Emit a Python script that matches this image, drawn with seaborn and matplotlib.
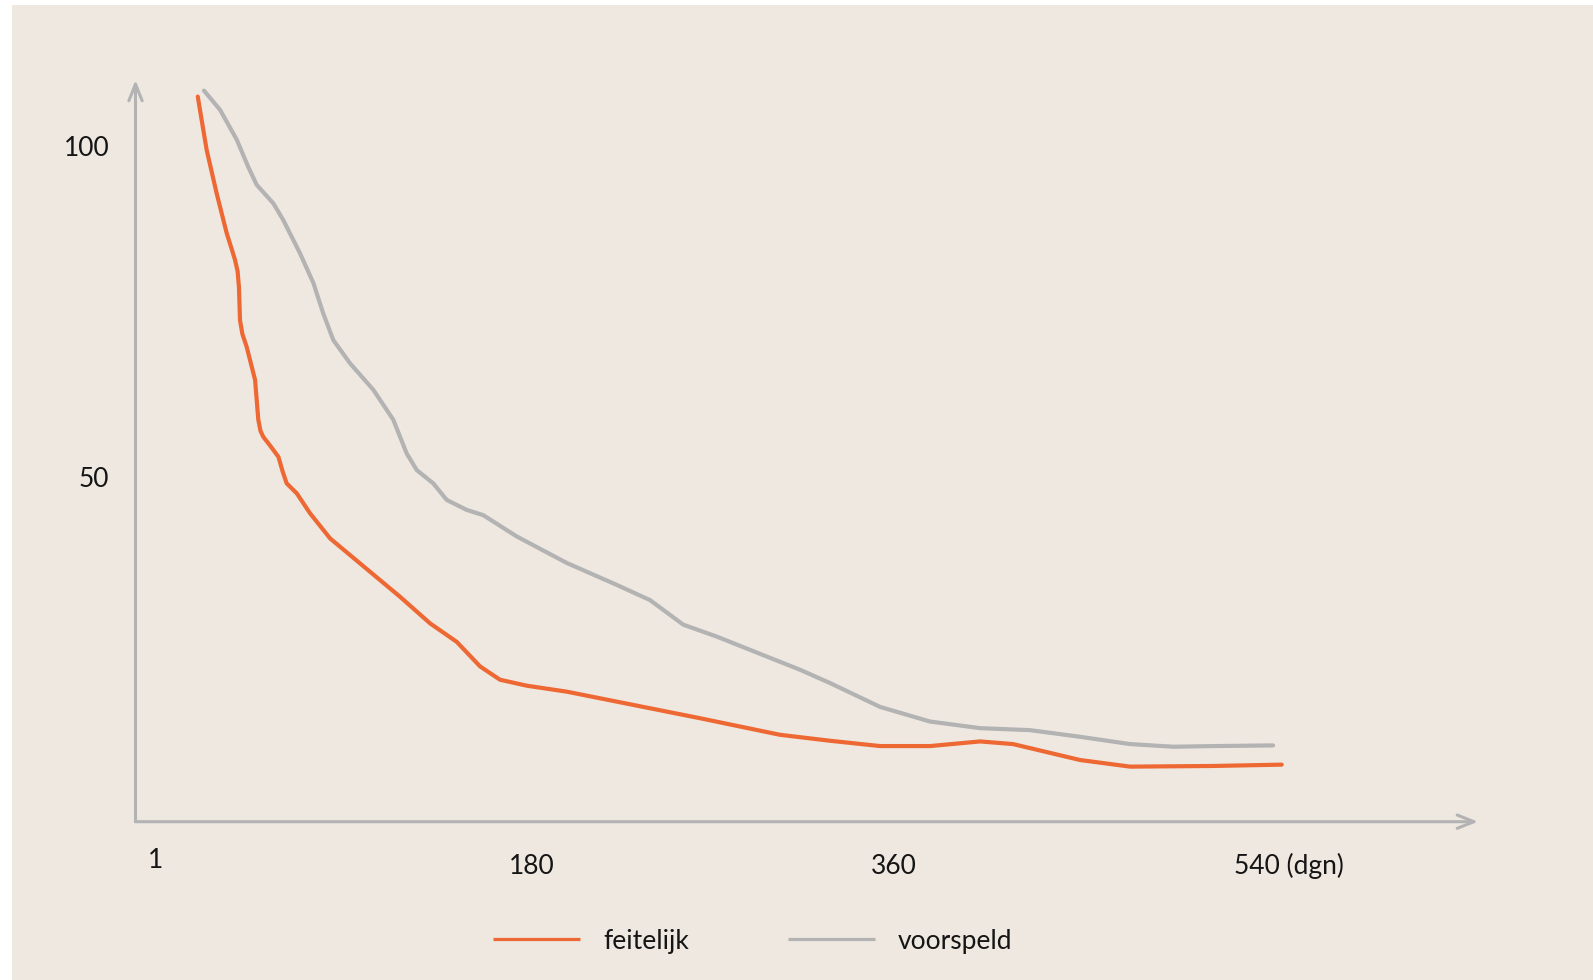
import matplotlib
matplotlib.use("Agg")
import matplotlib.pyplot as plt
from matplotlib.patches import Rectangle
from matplotlib.transforms import ScaledTranslation
import pandas as pd
import seaborn as sns

# ---------------- data ----------------
series_names = ["feitelijk", "voorspeld"]

days_feitelijk = [13.8, 18.2, 23.2, 28.2, 31.0, 32.3, 33.6, 34.3, 34.8, 36.0, 38.1,
                  42.3, 43.9, 45.0, 46.4, 50.0, 53.9, 56.0, 58.0, 63.0, 69.6, 79.6,
                  114.4, 129.3, 142.6, 154.2, 164.1, 177.4, 197.3, 230.4, 263.5,
                  303.3, 328.2, 353.1, 377.9, 402.8, 419.2, 452.5, 477.4, 518.6, 552.8]
vals_feitelijk = [107.3, 99.3, 92.7, 86.7, 84.0, 82.7, 81.0, 78.5, 73.6, 71.5, 69.6,
                  64.6, 58.6, 56.9, 56.0, 54.6, 53.0, 50.8, 49.0, 47.5, 44.5, 40.7,
                  31.9, 27.9, 25.1, 21.4, 19.4, 18.5, 17.6, 15.6, 13.6,
                  11.1, 10.2, 9.4, 9.4, 10.1, 9.7, 7.3, 6.3, 6.4, 6.6]

days_voorspeld = [16.9, 24.9, 33.2, 38.9, 43.1, 51.4, 56.3, 64.6, 71.3, 76.2, 81.2,
                  89.5, 101.1, 111.0, 117.7, 122.7, 130.9, 137.6, 147.5, 155.8,
                  172.4, 197.3, 222.1, 238.7, 255.2, 271.9, 296.7, 313.3, 328.2,
                  353.1, 377.9, 402.8, 427.6, 452.5, 477.4, 498.9, 518.8, 548.5]
vals_voorspeld = [108.2, 105.3, 100.8, 96.7, 94.0, 91.2, 88.7, 83.7, 79.2, 74.6, 70.6,
                  67.1, 63.1, 58.6, 53.5, 51.0, 49.0, 46.5, 45.0, 44.2,
                  41.0, 37.0, 33.7, 31.4, 27.7, 25.9, 22.9, 20.9, 18.9,
                  15.3, 13.1, 12.1, 11.8, 10.8, 9.7, 9.3, 9.4, 9.5]

x_tick_values = [1, 180, 360, 540]
x_tick_labels = ["1", "180", "360", "540 (dgn)"]
y_tick_values = [100, 50]
y_tick_labels = ["100", "50"]

# ---------------- style ----------------
BG = "#EEE8E1"
ORANGE = "#EE6834"
GREY = "#B3B3B3"
AXIS = "#B3B3B3"
TEXT = "#151515"

sns.set_style("white")
plt.rcParams["font.family"] = ["Lato", "DejaVu Sans"]

W, H = 1593, 980
fig = plt.figure(figsize=(W / 100, H / 100), dpi=100)
fig.patch.set_facecolor("white")
fig.patches.append(Rectangle((12 / W, 0), 1 - 12 / W, 1 - 5 / H,
                             transform=fig.transFigure, facecolor=BG,
                             edgecolor="none", zorder=-10))

ax_left, ax_right, ax_bottom, ax_top = 135.5, 1478.0, 821.7, 80.0
ax = fig.add_axes([ax_left / W, 1 - ax_bottom / H,
                   (ax_right - ax_left) / W, (ax_bottom - ax_top) / H])
ax.set_facecolor("none")

df = pd.concat([
    pd.DataFrame({"dag": days_feitelijk, "waarde": vals_feitelijk, "reeks": series_names[0]}),
    pd.DataFrame({"dag": days_voorspeld, "waarde": vals_voorspeld, "reeks": series_names[1]}),
], ignore_index=True)

sns.lineplot(data=df, x="dag", y="waarde", hue="reeks", hue_order=series_names,
             palette={series_names[0]: ORANGE, series_names[1]: GREY},
             sort=False, estimator=None, linewidth=3.0, ax=ax,
             solid_capstyle="round", solid_joinstyle="round")
lines = ax.get_lines()
if len(lines) >= 2:
    lines[0].set_zorder(3)
    lines[1].set_zorder(2)

ax.set_xlim(-17.16, 650.4)
ax.set_ylim(-2.0, 109.8)
ax.set_xticks([])
ax.set_yticks([])
ax.set_xlabel("")
ax.set_ylabel("")
for s in ax.spines.values():
    s.set_visible(False)

# axis arrows
arrow_kw = dict(arrowstyle="->,head_length=0.4,head_width=0.16", color=AXIS,
                lw=2.2, shrinkA=0, shrinkB=0, mutation_scale=30)
ax.annotate("", xy=(1, 0), xytext=(0, 0), xycoords="axes fraction",
            textcoords="axes fraction", arrowprops=arrow_kw)
ax.annotate("", xy=(0, 1), xytext=(0, 0), xycoords="axes fraction",
            textcoords="axes fraction", arrowprops=arrow_kw)

FS = 19
# y tick labels
ytrans = ax.get_yaxis_transform() + ScaledTranslation(-26.0 / 100, -10.5 / 100, fig.dpi_scale_trans)
for v, lab in zip(y_tick_values, y_tick_labels):
    ax.text(0, v, lab, transform=ytrans, ha="right", va="baseline",
            fontsize=FS, color=TEXT)

# x tick labels
for v, lab in zip(x_tick_values, x_tick_labels):
    if lab == "1":
        dx, dy, ha = -16.5, -45.8, "center"
    elif "(" in lab:
        dx, dy, ha = -22.0, -51.8, "left"
    else:
        dx, dy, ha = 0.0, -51.8, "center"
    xtrans = ax.get_xaxis_transform() + ScaledTranslation(dx / 100, dy / 100, fig.dpi_scale_trans)
    ax.text(v, 0, lab, transform=xtrans, ha=ha, va="baseline",
            fontsize=FS, color=TEXT)

# legend
leg = ax.get_legend()
handles, labels = ax.get_legend_handles_labels()
if leg is not None:
    leg.remove()
leg = fig.legend(handles, labels, loc="center left",
                 bbox_to_anchor=(493 / W, 1 - 941 / H), ncol=2, frameon=False,
                 fontsize=FS, handlelength=3.3, handletextpad=0.87,
                 columnspacing=3.75, borderpad=0, borderaxespad=0)
for t in leg.get_texts():
    t.set_color(TEXT)
for lh in leg.get_lines():
    lh.set_linewidth(2.3)
    lh.set_solid_capstyle("butt")

fig.savefig("out.png", dpi=100, facecolor=fig.get_facecolor())
